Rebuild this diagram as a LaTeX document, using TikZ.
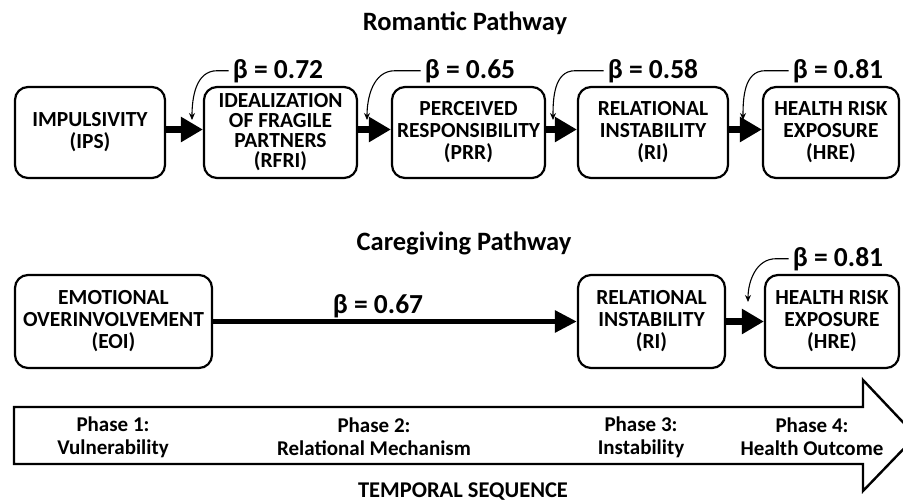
\documentclass[tikz,border=0pt]{standalone}
\usepackage{fontspec}
\setmainfont{Carlito}
\usetikzlibrary{arrows.meta,calc}
\begin{document}
\begin{tikzpicture}[x=1pt,y=-1pt,
  box/.style={draw, line width=2.2pt, rounded corners=13pt, align=center,
    inner sep=1pt, minimum height=91pt,
    font=\fontsize{21.5}{22}\selectfont\bfseries},
  flow/.style={line width=6.5pt, -{Triangle[length=22pt,width=24pt]}},
  longflow/.style={line width=5.5pt, -{Triangle[length=22pt,width=21pt]}},
  coef/.style={anchor=base, inner sep=1pt, font=\fontsize{27.5}{29}\selectfont\bfseries},
  coefarrow/.style={line width=1.1pt, -{Stealth[length=7pt,width=6pt]}},
  heading/.style={anchor=base, inner sep=0pt, font=\fontsize{26.5}{28}\selectfont\bfseries},
  phase/.style={align=center, inner sep=0pt, font=\fontsize{21}{23}\selectfont\bfseries}]

\clip (0,0) rectangle (903,501);
\fill[white] (0,0) rectangle (903,501);

% ---- Romantic pathway ----
\node[heading] (romtitle) at (465,30) {Romantic Pathway};

\node[box, minimum width=150pt] (ips)  at (90,132.5)    {IMPULSIVITY\\(IPS)};
\node[box, minimum width=153pt, font=\fontsize{21.5}{20}\selectfont\bfseries] (rfri) at (280.5,132.5)
  {IDEALIZATION\\OF FRAGILE\\PARTNERS\\(RFRI)};
\node[box, minimum width=153pt] (prr)  at (468.5,132.5) {PERCEIVED\\RESPONSIBILITY\\(PRR)};
\node[box, minimum width=150pt] (ri)   at (653,132.5)   {RELATIONAL\\INSTABILITY\\(RI)};
\node[box, minimum width=136pt] (hre)  at (831,132.5)   {HEALTH RISK\\EXPOSURE\\(HRE)};

\draw[flow] ([yshift=3pt]ips.east) -- ([yshift=3pt]rfri.west);
\draw[flow] ([yshift=3pt]rfri.east) -- ([yshift=3pt]prr.west);
\draw[flow] ([yshift=3pt]prr.east) -- ([yshift=3pt]ri.west);
\draw[flow] ([yshift=3pt]ri.east) -- ([yshift=3pt]hre.west);

\node[coef] (b1) at (278,78) {β = 0.72};
\node[coef] (b2) at (470,78) {β = 0.65};
\node[coef] (b3) at (653,78) {β = 0.58};
\node[coef] (b4) at (838,78) {β = 0.81};

\coordinate (t1) at (192,120);
\coordinate (t2) at (367,120);
\coordinate (t3) at (553,120);
\coordinate (t4) at (743,120);

\draw[coefarrow] ([xshift=-3pt]b1.west) -- ($(t1 |- b1.west)+(25,0)$) to[out=180,in=90] (t1);
\draw[coefarrow] ([xshift=-3pt]b2.west) -- ($(t2 |- b2.west)+(28,0)$) to[out=180,in=90] (t2);
\draw[coefarrow] ([xshift=-3pt]b3.west) -- ($(t3 |- b3.west)+(22,0)$) to[out=180,in=90] (t3);
\draw[coefarrow] ([xshift=-3pt]b4.west) -- ($(t4 |- b4.west)+(22,0)$) to[out=180,in=90] (t4);

% ---- Caregiving pathway ----
\node[heading] (caretitle) at (464,250) {Caregiving Pathway};

\node[box, minimum width=197pt, minimum height=93pt] (eoi)  at (113.5,321.5) {EMOTIONAL\\OVERINVOLVEMENT\\(EOI)};
\node[box, minimum width=147pt, minimum height=93pt] (ri2)  at (651.5,321.5) {RELATIONAL\\INSTABILITY\\(RI)};
\node[box, minimum width=134pt, minimum height=93pt] (hre2) at (832,321.5)   {HEALTH RISK\\EXPOSURE\\(HRE)};

\draw[longflow] (eoi) -- (ri2);
\draw[flow] (ri2) -- (hre2);

\node[coef] (b5) at (378,313) {β = 0.67};
\node[coef] (b6) at (838,266) {β = 0.81};
\coordinate (t6) at (748,302);
\draw[coefarrow] ([xshift=-3pt]b6.west) -- ($(t6 |- b6.west)+(28,0)$) to[out=180,in=90] (t6);

% ---- Temporal sequence arrow ----
\draw[line width=2.4pt, line join=miter, fill=white]
  (14,407) -- (863,407) -- (863,380) -- (916,436) -- (863,491) -- (863,464) -- (14,464) -- cycle;

\node[phase] (p1) at (113,437) {Phase 1:\\Vulnerability};
\node[phase] (p2) at (374,437) {Phase 2:\\Relational Mechanism};
\node[phase] (p3) at (641,437) {Phase 3:\\Instability};
\node[phase] (p4) at (812,437) {Phase 4:\\Health Outcome};

\node[anchor=base, inner sep=0pt, font=\fontsize{22.5}{24}\selectfont\bfseries] (temporal) at (463,497) {TEMPORAL SEQUENCE};
\end{tikzpicture}
\end{document}
